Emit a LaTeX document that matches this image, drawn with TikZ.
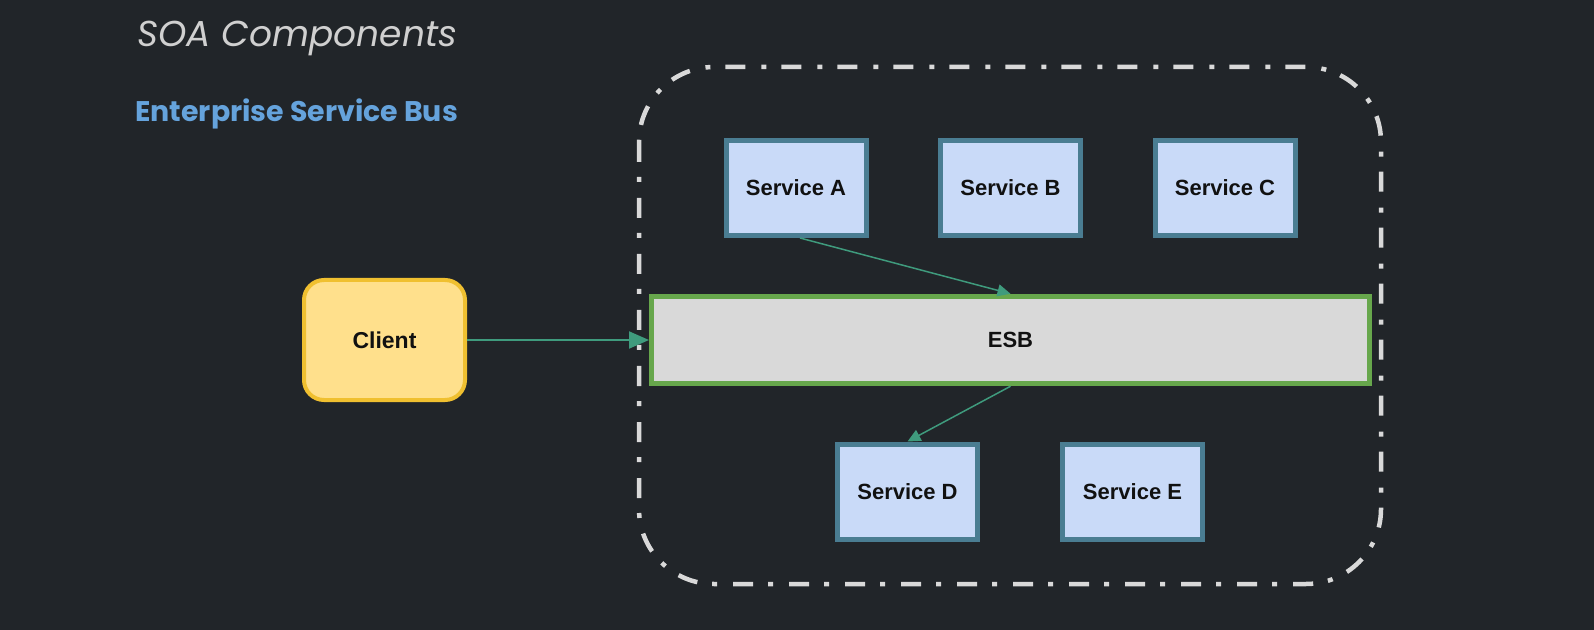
\documentclass[tikz,border=0pt]{standalone}
\usepackage{fontspec}
\setmainfont{Liberation Sans}
\newfontfamily\poppins{Poppins}
\usetikzlibrary{arrows.meta}
\definecolor{bg}{HTML}{212529}
\definecolor{titlegray}{HTML}{D0D0D0}
\definecolor{subblue}{HTML}{65A3DC}
\definecolor{svcfill}{HTML}{C9DAF8}
\definecolor{svcdraw}{HTML}{4A7D92}
\definecolor{esbfill}{HTML}{D9D9D9}
\definecolor{esbdraw}{HTML}{67A74C}
\definecolor{clifill}{HTML}{FFE08C}
\definecolor{clidraw}{HTML}{F0C030}
\definecolor{arrowc}{HTML}{3F9B7D}
\definecolor{dashc}{HTML}{D9D9D9}
\definecolor{txt}{HTML}{111111}
\tikzset{
  svc/.style={draw=svcdraw, fill=svcfill, line width=2.5pt, minimum width=70pt, minimum height=47.5pt, inner sep=0pt, font=\fontsize{11}{13}\selectfont\bfseries, text=txt},
  esbbox/.style={draw=esbdraw, fill=esbfill, line width=2.5pt, minimum width=359pt, minimum height=43.75pt, inner sep=0pt, font=\fontsize{11}{13}\selectfont\bfseries, text=txt},
  clibox/.style={draw=clidraw, fill=clifill, line width=2pt, rounded corners=10pt, minimum width=80.5pt, minimum height=60pt, inner sep=0pt, font=\fontsize{11.5}{13}\selectfont\bfseries, text=txt},
  thickarrow/.style={draw=arrowc, line width=1pt, -{Triangle[length=10pt,width=8.5pt]}},
  thinarrow/.style={draw=arrowc, line width=0.75pt, -{Triangle[length=6.5pt,width=6pt]}},
  busline/.style={draw=dashc, line width=2.25pt, rounded corners=37.5pt, dash pattern=on 10pt off 7.5pt on 2.5pt off 8pt}
}
\begin{document}
\begin{tikzpicture}[x=0.5pt,y=-0.5pt]
\fill[bg] (0,0) rectangle (1594,630);
\useasboundingbox (0,0) rectangle (1594,630);
\node[anchor=base west, inner sep=0pt, text=titlegray, font=\poppins\itshape\fontsize{18}{21}\selectfont] (title) at (137,47) {SOA Components};
\node[anchor=base west, inner sep=0pt, text=subblue, font=\poppins\bfseries\fontsize{14.2}{17}\selectfont] (sub) at (135,122) {Enterprise Service Bus};
\draw[busline] (639,67) rectangle (1381,584);
\node[svc] (sa) at (796,188) {Service A};
\node[svc] (sb) at (1010.5,188) {Service B};
\node[svc] (sc) at (1225,188) {Service C};
\node[esbbox] (esb) at (1010.5,340) {ESB};
\node[svc] (sd) at (907.5,491.5) {Service D};
\node[svc] (se) at (1132.5,491.5) {Service E};
\node[clibox] (cli) at (384.5,340) {Client};
\draw[thickarrow] (cli.east) -- (esb.west);
\draw[thinarrow] ([xshift=2pt]sa.south) -- (esb.north);
\draw[thinarrow] (esb.south) -- (sd.north);
\end{tikzpicture}
\end{document}
